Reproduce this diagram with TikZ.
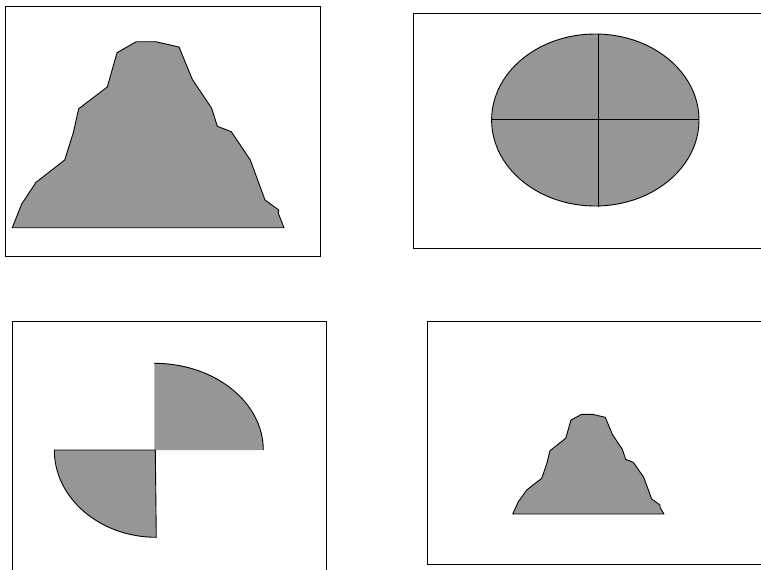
\documentclass[tikz,border=0pt]{standalone}
\definecolor{shapegray}{RGB}{150,150,150}
\tikzset{
  frame/.style={draw=black, line width=1pt},
  shapefill/.style={fill=shapegray},
  outline/.style={draw=black, line width=0.9pt, line join=round},
}
\begin{document}
\begin{tikzpicture}[x=1pt,y=-1pt]
\useasboundingbox (0,0) rectangle (761,570);
% panel 1
\draw[frame] (5,6) rectangle (320,256);
\path[shapefill, outline] (12.3,227.7) -- (21.7,204) -- (36,182.3) -- (64.7,160) -- (73.3,132.7) -- (78.7,108.7) -- (107.3,87) -- (117,52.7) -- (136.3,41.7) -- (155.7,41.7) -- (179,47) -- (192.3,79.3) -- (211.7,108.3) -- (217.3,126.3) -- (231.3,131.7) -- (250.3,160) -- (265,200) -- (278.7,210) -- (278.3,213.3) -- (284,227.7) -- cycle;
% panel 2
\draw[frame] (761,13) -- (413,13) -- (413,248) -- (761,248);
\path[shapefill, outline] (595.3,120) ellipse [x radius=103.7pt, y radius=86pt];
\draw[outline] (598.5,34) -- (598.5,206.5);
\draw[outline] (491.5,119.5) -- (699,119.5);
% panel 3
\draw[frame] (12.7,570) -- (12.7,321) -- (326.7,321) -- (326.7,570);
\path[shapefill] (154.3,363.3) -- (154.3,450) -- (263.3,450) arc[start angle=0, end angle=90, x radius=109pt, y radius=86.7pt] -- cycle;
\draw[outline] (263.3,450) arc[start angle=0, end angle=90, x radius=109pt, y radius=86.7pt];
\path[shapefill] (54.3,450) -- (155.3,450) -- (156.3,537.3) arc[start angle=270, end angle=180, x radius=102pt, y radius=87.3pt] -- cycle;
\draw[outline] (156.3,537.3) -- (155.3,450) -- (54.3,450) arc[start angle=180, end angle=270, x radius=102pt, y radius=87.3pt];
% panel 4
\draw[frame] (761,321) -- (427.3,321) -- (427.3,564.3) -- (761,564.3);
\path[shapefill, outline] (512.7,514) -- (518.3,501.7) -- (526.7,490) -- (541.7,478.3) -- (546.7,464) -- (550,450.7) -- (565.7,438.3) -- (571,420) -- (581.7,414.3) -- (592.3,414.3) -- (605.3,417.3) -- (612.3,434.3) -- (622.3,449.3) -- (625.7,459.3) -- (633.3,462.3) -- (643.7,477.3) -- (651.7,499) -- (660,505) -- (660,507.3) -- (664,514) -- cycle;
\end{tikzpicture}
\end{document}
